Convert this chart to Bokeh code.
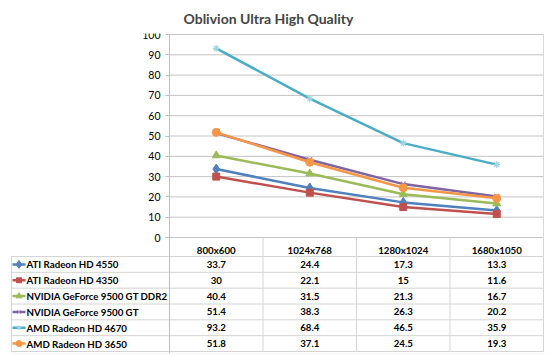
from bokeh.plotting import figure
from bokeh.models import FixedTicker, Range1d
from bokeh.core.properties import value
from bokeh.embed import file_html
from bokeh.resources import INLINE

# ---------------- data ----------------
categories = ["800x600", "1024x768", "1280x1024", "1680x1050"]
series_names = [
    "ATI Radeon HD 4550",
    "ATI Radeon HD 4350",
    "NVIDIA GeForce 9500 GT DDR2",
    "NVIDIA GeForce 9500 GT",
    "AMD Radeon HD 4670",
    "AMD Radeon HD 3650",
]
ati_hd_4550 = [33.7, 24.4, 17.3, 13.3]
ati_hd_4350 = [30, 22.1, 15, 11.6]
nvidia_9500gt_ddr2 = [40.4, 31.5, 21.3, 16.7]
nvidia_9500gt = [51.4, 38.3, 26.3, 20.2]
amd_hd_4670 = [93.2, 68.4, 46.5, 35.9]
amd_hd_3650 = [51.8, 37.1, 24.5, 19.3]
series_values = [ati_hd_4550, ati_hd_4350, nvidia_9500gt_ddr2,
                 nvidia_9500gt, amd_hd_4670, amd_hd_3650]
y_ticks = [0, 10, 20, 30, 40, 50, 60, 70, 80, 90, 100]
title_text = "Oblivion Ultra High Quality"

# ---------------- styles ----------------
colors = ["#4F81BD", "#C0504D", "#9BBB59", "#8064A2", "#4BACC6", "#F79646"]
marker_colors = ["#4F81BD", "#C0504D", "#9BBB59", "#9c88b8", "#9fd4e3", "#F79646"]
markers = ["diamond", "square", "triangle", "x", "asterisk", "circle"]
msizes = [10, 7, 8, 7, 7, 8]
FONT = "Lato"
GRID_C = "#c4c4c4"
TABLE_C = "#d4d4d4"

# ---------------- layout (page pixels; the page has no margin) ----------------
W, H = 550, 355
FRAME_L, FRAME_R, FRAME_T, FRAME_B = 10, 545, 33, 353
AX, X4 = 169.0, 543.0
Y100, Y0 = 34.0, 237.0
PX_X = (X4 - AX) / len(categories)
PX_Y = (Y0 - Y100) / 100.0


def xd(px):
    return (px - AX) / PX_X


def yd(py):
    return -(py - Y0) / PX_Y


x_range = Range1d(xd(FRAME_L), xd(FRAME_R))
y_range = Range1d(yd(FRAME_B), yd(FRAME_T))

p = figure(width=W, height=H, x_range=x_range, y_range=y_range,
           output_backend="svg", toolbar_location=None,
           min_border_left=FRAME_L, min_border_right=W - FRAME_R,
           min_border_top=FRAME_T, min_border_bottom=H - FRAME_B,
           outline_line_color=None, title=title_text)
p.styles = {"outline": "1px solid #d9d9d9", "outline-offset": "-2px"}

p.title.text_font = FONT
p.title.text_font_size = "14px"
p.title.text_font_style = "bold"
p.title.align = "left"
p.title.offset = 183 - FRAME_L
p.title.standoff = 14

p.xaxis.visible = False
p.xgrid.visible = False
p.ygrid.visible = False

ya = p.yaxis[0]
ya.fixed_location = 0
ya.ticker = FixedTicker(ticks=y_ticks)
ya.major_tick_in = 0
ya.major_tick_out = 4
ya.minor_tick_line_color = None
ya.axis_line_color = "#bdbdbd"
ya.major_tick_line_color = "#bdbdbd"
ya.major_label_text_font = FONT
ya.major_label_text_font_size = "10.5px"
ya.major_label_text_color = "#000000"
ya.major_label_standoff = 5

n = len(categories)
xc = [i + 0.5 for i in range(n)]

# gridlines within the plot area
p.segment(x0=[0] * len(y_ticks), x1=[n] * len(y_ticks), y0=y_ticks, y1=y_ticks,
          line_color=GRID_C, line_width=1)
# plot area right border
p.segment(x0=[n], x1=[n], y0=[0], y1=[max(y_ticks)], line_color="#d9d9d9", line_width=1)

# ---------------- data table ----------------
HDR_B = 256.0
TBL_B = 351.0
TBL_L = 11.0
nrows = len(series_names)
row_h = (yd(HDR_B) - yd(TBL_B)) / nrows
row_tops = [yd(HDR_B) - k * row_h for k in range(nrows + 1)]
row_centers = [yd(HDR_B) - (k + 0.5) * row_h for k in range(nrows)]

# vertical lines
p.segment(x0=[1, 2, 3], x1=[1, 2, 3], y0=[0] * 3, y1=[yd(TBL_B)] * 3,
          line_color=TABLE_C, line_width=1)
p.segment(x0=[n], x1=[n], y0=[0], y1=[yd(TBL_B)], line_color=TABLE_C, line_width=1)
p.segment(x0=[xd(TBL_L)], x1=[xd(TBL_L)], y0=[yd(HDR_B)], y1=[yd(TBL_B)],
          line_color=TABLE_C, line_width=1)
# horizontal lines
p.segment(x0=[xd(TBL_L)] * len(row_tops), x1=[n] * len(row_tops),
          y0=row_tops, y1=row_tops, line_color=TABLE_C, line_width=1)

TXT = "9.7px"
# header labels
p.text(x=xc, y=[yd(249.5)] * n, text=categories, text_font=value(FONT),
       text_font_size=TXT, text_font_style="bold", text_align="center",
       text_baseline="middle", text_color="#000000")

for i, (name, vals) in enumerate(zip(series_names, series_values)):
    c = colors[i]
    mc = marker_colors[i]
    thin = markers[i] in ("x", "asterisk")
    # chart line + markers
    p.line(x=xc, y=vals, line_color=c, line_width=2.5)
    p.scatter(x=xc, y=vals, marker=markers[i], size=msizes[i],
              fill_color=mc, line_color=mc, line_width=1.2 if thin else 1)
    # table values
    p.text(x=xc, y=[row_centers[i]] * n, text=["{:g}".format(v) for v in vals],
           text_font=value(FONT), text_font_size=TXT, text_font_style="bold",
           text_align="center", text_baseline="middle", text_color="#000000")
    # legend key
    p.segment(x0=[xd(12)], x1=[xd(25)], y0=[row_centers[i]], y1=[row_centers[i]],
              line_color=c, line_width=2.5)
    p.scatter(x=[xd(18.5)], y=[row_centers[i]], marker=markers[i],
              size=msizes[i] - 2, fill_color=mc, line_color=mc, line_width=1)
    # row label
    p.text(x=[xd(26)], y=[row_centers[i]], text=[name], text_font=value(FONT),
           text_font_size=TXT, text_font_style="bold", text_align="left",
           text_baseline="middle", text_color="#000000")

open("out.html", "w").write(file_html(p, INLINE))
